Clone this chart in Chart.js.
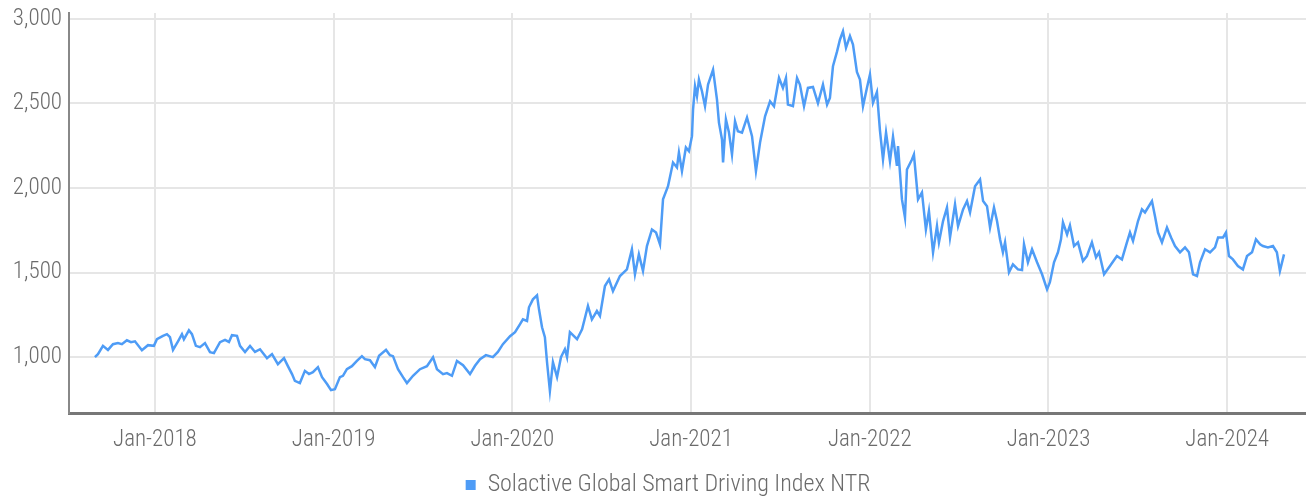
<!DOCTYPE html>
<html>
<head>
<meta charset="utf-8">
<script src="https://cdn.jsdelivr.net/npm/chart.js@4"></script>
<style>
    html, body { margin: 0; padding: 0; background: #fff; }
    #wrap { width: 1306px; height: 498px; }
</style>
</head>
<body>
<div id="wrap"><canvas id="chart"></canvas></div>
<script>
// time as decimal years, values of the index
const times = [
    2017.664, 2017.681, 2017.709, 2017.737, 2017.765, 2017.793, 2017.815, 2017.843, 2017.866, 2017.888,
    2017.927, 2017.961, 2017.994, 2018.011, 2018.045, 2018.067, 2018.084, 2018.101, 2018.129, 2018.151,
    2018.162, 2018.190, 2018.207, 2018.229, 2018.252, 2018.280, 2018.308, 2018.330, 2018.364, 2018.392,
    2018.414, 2018.431, 2018.459, 2018.476, 2018.504, 2018.532, 2018.560, 2018.588, 2018.627, 2018.655,
    2018.688, 2018.722, 2018.744, 2018.767, 2018.783, 2018.811, 2018.839, 2018.862, 2018.884, 2018.912,
    2018.935, 2018.963, 2018.985, 2019.007, 2019.035, 2019.052, 2019.074, 2019.102, 2019.130, 2019.158,
    2019.175, 2019.203, 2019.231, 2019.254, 2019.293, 2019.315, 2019.332, 2019.360, 2019.388, 2019.410,
    2019.444, 2019.483, 2019.522, 2019.556, 2019.578, 2019.612, 2019.634, 2019.662, 2019.690, 2019.724,
    2019.763, 2019.791, 2019.819, 2019.852, 2019.891, 2019.919, 2019.947, 2019.987, 2020.015, 2020.043,
    2020.059, 2020.082, 2020.093, 2020.115, 2020.138, 2020.149, 2020.166, 2020.182, 2020.194, 2020.210,
    2020.227, 2020.250, 2020.272, 2020.294, 2020.306, 2020.322, 2020.362, 2020.390, 2020.423, 2020.445,
    2020.473, 2020.490, 2020.518, 2020.541, 2020.563, 2020.602, 2020.641, 2020.669, 2020.686, 2020.708,
    2020.731, 2020.753, 2020.781, 2020.804, 2020.826, 2020.843, 2020.871, 2020.899, 2020.921, 2020.932,
    2020.949, 2020.971, 2020.988, 2021.005, 2021.011, 2021.022, 2021.033, 2021.044, 2021.061, 2021.078,
    2021.095, 2021.123, 2021.145, 2021.156, 2021.173, 2021.179, 2021.195, 2021.212, 2021.229, 2021.246,
    2021.262, 2021.285, 2021.313, 2021.341, 2021.363, 2021.386, 2021.414, 2021.442, 2021.464, 2021.492,
    2021.514, 2021.531, 2021.542, 2021.570, 2021.593, 2021.609, 2021.632, 2021.654, 2021.682, 2021.710,
    2021.738, 2021.761, 2021.777, 2021.794, 2021.817, 2021.833, 2021.850, 2021.867, 2021.889, 2021.906,
    2021.928, 2021.945, 2021.962, 2021.984, 2022.001, 2022.018, 2022.040, 2022.057, 2022.074, 2022.091,
    2022.113, 2022.130, 2022.152, 2022.158, 2022.180, 2022.197, 2022.208, 2022.236, 2022.247, 2022.270,
    2022.292, 2022.314, 2022.331, 2022.354, 2022.376, 2022.387, 2022.410, 2022.432, 2022.449, 2022.477,
    2022.494, 2022.522, 2022.544, 2022.561, 2022.589, 2022.617, 2022.634, 2022.656, 2022.673, 2022.695,
    2022.712, 2022.729, 2022.745, 2022.757, 2022.779, 2022.801, 2022.829, 2022.852, 2022.863, 2022.885,
    2022.908, 2022.936, 2022.964, 2022.992, 2023.008, 2023.031, 2023.053, 2023.070, 2023.081, 2023.104,
    2023.120, 2023.143, 2023.165, 2023.193, 2023.215, 2023.243, 2023.266, 2023.283, 2023.311, 2023.344,
    2023.383, 2023.411, 2023.439, 2023.456, 2023.473, 2023.501, 2023.523, 2023.540, 2023.557, 2023.579,
    2023.596, 2023.613, 2023.635, 2023.663, 2023.686, 2023.708, 2023.736, 2023.764, 2023.786, 2023.809,
    2023.831, 2023.848, 2023.876, 2023.904, 2023.932, 2023.949, 2023.977, 2023.993, 2024.010, 2024.032,
    2024.060, 2024.088, 2024.111, 2024.139, 2024.161, 2024.184, 2024.200, 2024.228, 2024.256, 2024.278,
    2024.295, 2024.318
];
const indexValues = [
    1000, 1018, 1067, 1043, 1077, 1083, 1077, 1100, 1089, 1094,
    1041, 1071, 1067, 1106, 1126, 1136, 1118, 1043, 1094, 1136,
    1106, 1159, 1136, 1067, 1059, 1083, 1030, 1024, 1089, 1102,
    1090, 1130, 1126, 1067, 1031, 1067, 1031, 1047, 994, 1018,
    959, 994, 947, 900, 860, 847, 919, 900, 911, 941,
    882, 841, 805, 811, 882, 890, 929, 947, 978, 1006,
    988, 982, 941, 1008, 1043, 1012, 1006, 929, 882, 847,
    890, 929, 947, 1000, 929, 900, 906, 890, 978, 953,
    900, 949, 988, 1012, 1000, 1031, 1077, 1124, 1148, 1195,
    1224, 1214, 1295, 1342, 1366, 1283, 1177, 1118, 970, 801,
    970, 882, 1000, 1047, 1000, 1148, 1106, 1165, 1303, 1224,
    1273, 1244, 1421, 1460, 1391, 1480, 1519, 1638, 1490, 1608,
    1510, 1657, 1755, 1737, 1667, 1933, 2011, 2151, 2122, 2210,
    2100, 2240, 2218, 2307, 2464, 2602, 2543, 2641, 2572, 2484,
    2612, 2700, 2523, 2387, 2287, 2151, 2405, 2328, 2198, 2395,
    2336, 2328, 2417, 2307, 2100, 2269, 2424, 2513, 2484, 2651,
    2592, 2651, 2494, 2484, 2651, 2612, 2484, 2592, 2598, 2502,
    2612, 2494, 2533, 2720, 2808, 2877, 2927, 2829, 2898, 2848,
    2686, 2641, 2484, 2592, 2671, 2504, 2568, 2340, 2169, 2328,
    2159, 2303, 2131, 2248, 1933, 1826, 2110, 2169, 2198, 1933,
    1974, 1755, 1864, 1620, 1775, 1679, 1805, 1885, 1708, 1903,
    1775, 1874, 1923, 1856, 2011, 2051, 1923, 1893, 1767, 1885,
    1805, 1697, 1620, 1679, 1502, 1549, 1519, 1515, 1667, 1561,
    1638, 1561, 1490, 1401, 1443, 1561, 1620, 1697, 1797, 1726,
    1779, 1657, 1679, 1569, 1598, 1679, 1590, 1620, 1490, 1539,
    1598, 1578, 1679, 1737, 1687, 1805, 1874, 1856, 1885, 1923,
    1834, 1737, 1679, 1767, 1708, 1657, 1620, 1649, 1620, 1490,
    1480, 1561, 1638, 1620, 1649, 1708, 1708, 1737, 1598, 1578,
    1539, 1519, 1598, 1620, 1697, 1667, 1657, 1649, 1657, 1620,
    1510, 1608
];
const yearTicks = [2018, 2019, 2020, 2021, 2022, 2023, 2024];
const valueTicks = [1000, 1500, 2000, 2500, 3000];
const seriesName = 'Solactive Global Smart Driving Index NTR';

const fontFamily = "'Roboto Condensed', Roboto, sans-serif";
const textColor = '#6b6b6b';
const lineColor = '#4e9cf6';

const points = times.map((t, i) => ({ x: t, y: indexValues[i] }));

// nudge the legend a little lower and to the right, like the original
const legendNudge = {
    id: 'legendNudge',
    afterLayout(chart) {
        const legend = chart.legend;
        legend.top += 9;
        legend.bottom += 9;
        legend.left += 15;
        legend.right += 15;
    },
};

new Chart(document.getElementById('chart'), {
    type: 'line',
    data: {
        datasets: [{
            label: seriesName,
            data: points,
            borderColor: lineColor,
            backgroundColor: lineColor,
            borderWidth: 2.5,
            pointRadius: 0,
            tension: 0,
        }],
    },
    options: {
        responsive: true,
        maintainAspectRatio: false,
        animation: false,
        layout: { padding: { top: 13, left: 0, right: 0, bottom: 0 } },
        plugins: {
            tooltip: { enabled: false },
            legend: {
                position: 'bottom',
                labels: {
                    boxWidth: 10,
                    boxHeight: 10,
                    padding: 10,
                    color: textColor,
                    font: { family: fontFamily, size: 24, weight: 300 },
                    generateLabels(chart) {
                        const items = Chart.defaults.plugins.legend.labels.generateLabels(chart);
                        items.forEach(item => { item.lineWidth = 0; });
                        return items;
                    },
                },
            },
        },
        scales: {
            x: {
                type: 'linear',
                min: 2017.519,
                max: 2024.441,
                afterBuildTicks(scale) {
                    scale.ticks = yearTicks.map(v => ({ value: v }));
                },
                afterFit(scale) {
                    scale.height = 41;
                },
                ticks: {
                    color: textColor,
                    padding: 13,
                    maxRotation: 0,
                    font: { family: fontFamily, size: 23, weight: 300 },
                    callback: value => 'Jan-' + value,
                },
                grid: { color: '#e6e6e6', lineWidth: 2, drawTicks: false },
                border: { color: '#777', width: 3 },
            },
            y: {
                min: 670,
                max: 3035,
                afterBuildTicks(scale) {
                    scale.ticks = valueTicks.map(v => ({ value: v }));
                },
                afterFit(scale) {
                    scale.width = 69;
                },
                ticks: {
                    color: textColor,
                    padding: 7,
                    font: { family: fontFamily, size: 23, weight: 300, lineHeight: 0.5 },
                    callback: value => value.toLocaleString('en-US'),
                },
                grid: { color: '#e6e6e6', lineWidth: 2, drawTicks: false },
                border: { color: '#888', width: 2 },
            },
        },
    },
    plugins: [legendNudge],
});
</script>
</body>
</html>
